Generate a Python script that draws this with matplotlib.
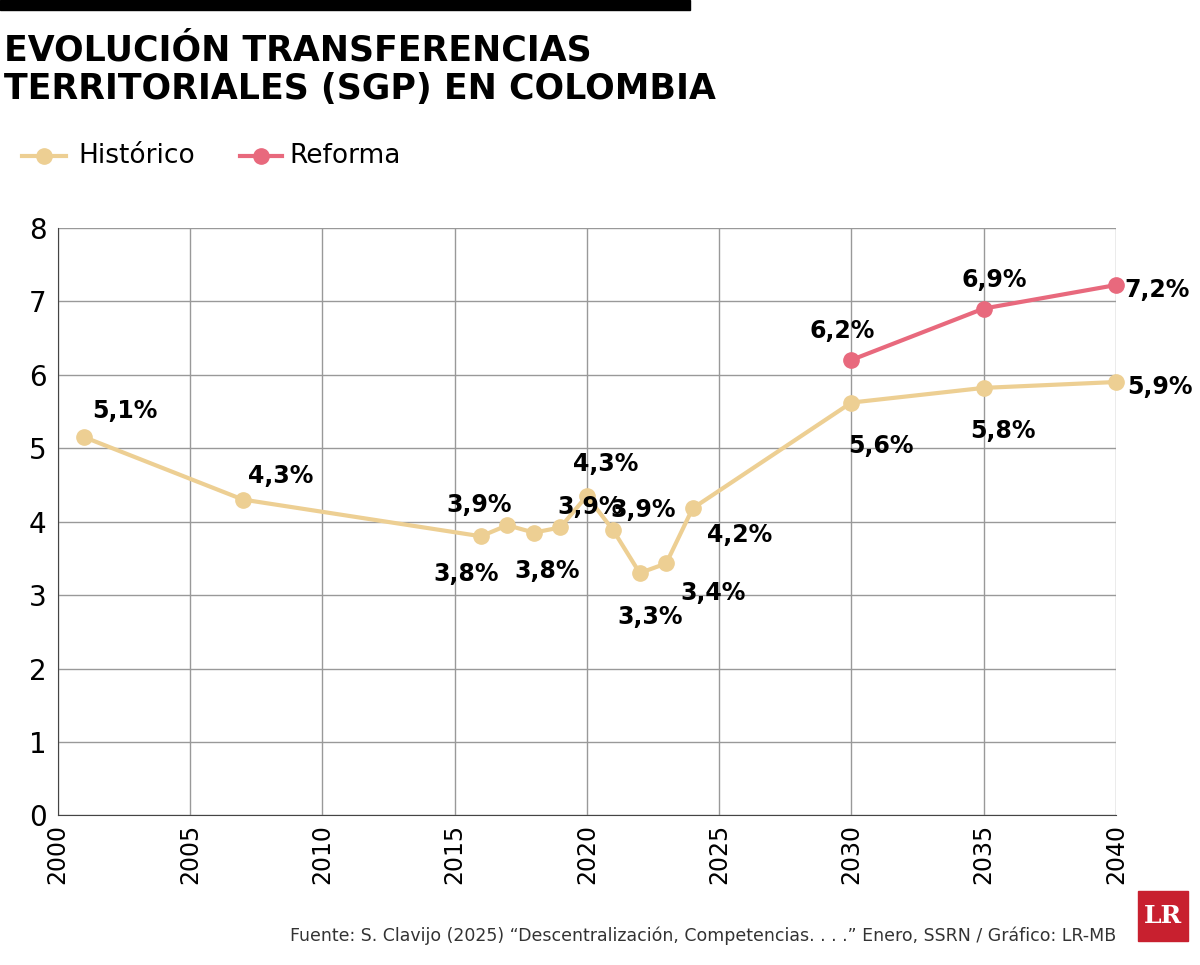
import matplotlib
matplotlib.use("Agg")
import matplotlib.pyplot as plt
from matplotlib.patches import Rectangle

plt.rcParams['font.family'] = ['DejaVu Sans']

hist_years = [2001, 2007, 2016, 2017, 2018, 2019, 2020, 2021, 2022, 2023, 2024, 2030, 2035, 2040]
hist_vals = [5.15, 4.3, 3.8, 3.95, 3.85, 3.92, 4.35, 3.88, 3.3, 3.43, 4.18, 5.62, 5.82, 5.9]
hist_labels = ["5,1%", "4,3%", "3,8%", "3,9%", "3,8%", "3,9%", "4,3%", "3,9%", "3,3%", "3,4%", "4,2%", "5,6%", "5,8%", "5,9%"]
hist_offsets = [(6, 10), (4, 8), (-34, -36), (-44, 6), (-14, -36), (-2, 6), (-10, 14), (-2, 6), (-16, -40), (10, -30), (10, -28), (-2, -40), (-10, -40), (8, -12)]
ref_years = [2030, 2035, 2040]
ref_vals = [6.2, 6.9, 7.22]
ref_labels = ["6,2%", "6,9%", "7,2%"]
ref_offsets = [(-30, 12), (-16, 12), (6, -12)]

HC = "#EDCF93"
RC = "#E8697D"

fig = plt.figure(figsize=(12, 9.65), dpi=100)
ax = fig.add_axes([0.048, 0.155, 0.882, 0.609])

ax.plot(hist_years, hist_vals, color=HC, lw=3, marker='o', ms=11, zorder=3, clip_on=False)
ax.plot(ref_years, ref_vals, color=RC, lw=3, marker='o', ms=11, zorder=3, clip_on=False)
for x, y, l, o in zip(hist_years, hist_vals, hist_labels, hist_offsets):
    ax.annotate(l, (x, y), xytext=o, textcoords='offset points', fontsize=17, fontweight='bold', va='bottom')
for x, y, l, o in zip(ref_years, ref_vals, ref_labels, ref_offsets):
    ax.annotate(l, (x, y), xytext=o, textcoords='offset points', fontsize=17, fontweight='bold', va='bottom')

ax.set_xlim(2000, 2040)
ax.set_ylim(0, 8)
ax.set_xticks(range(2000, 2041, 5))
ax.set_yticks(range(0, 9))
ax.tick_params(axis='x', labelrotation=90, labelsize=17, length=0, pad=6)
ax.tick_params(axis='y', labelsize=20, length=0, pad=8)
ax.grid(True, color='#999999', lw=1)
for s in ['top', 'right']:
    ax.spines[s].set_visible(False)
for s in ['left', 'bottom']:
    ax.spines[s].set_color('#444444')

fig.patches.append(Rectangle((0, 0.99), 0.575, 0.01, transform=fig.transFigure, color='black'))
fig.text(0.003, 0.965, "EVOLUCIÓN TRANSFERENCIAS\nTERRITORIALES (SGP) EN COLOMBIA", fontsize=25, fontweight='bold',
         va='top', ha='left', linespacing=1.15)
# legend
fig.add_artist(plt.Line2D([0.018, 0.055], [0.838, 0.838], color=HC, lw=3, transform=fig.transFigure))
fig.add_artist(plt.Line2D([0.0365], [0.838], color=HC, marker='o', ms=11, transform=fig.transFigure))
fig.text(0.065, 0.838, "Histórico", fontsize=19, va='center')
fig.add_artist(plt.Line2D([0.2, 0.235], [0.838, 0.838], color=RC, lw=3, transform=fig.transFigure))
fig.add_artist(plt.Line2D([0.2175], [0.838], color=RC, marker='o', ms=11, transform=fig.transFigure))
fig.text(0.241, 0.838, "Reforma", fontsize=19, va='center')

fig.text(0.93, 0.03, "Fuente: S. Clavijo (2025) “Descentralización, Competencias. . . .” Enero, SSRN / Gráfico: LR-MB",
         fontsize=12.5, ha='right', va='center', color='#333333')
fig.patches.append(Rectangle((0.948, 0.025), 0.042, 0.052, transform=fig.transFigure, color='#C8202F'))
fig.text(0.969, 0.051, "LR", fontsize=18, fontweight='bold', color='white', ha='center', va='center', family='DejaVu Serif')

fig.savefig("out.png", dpi=100)
